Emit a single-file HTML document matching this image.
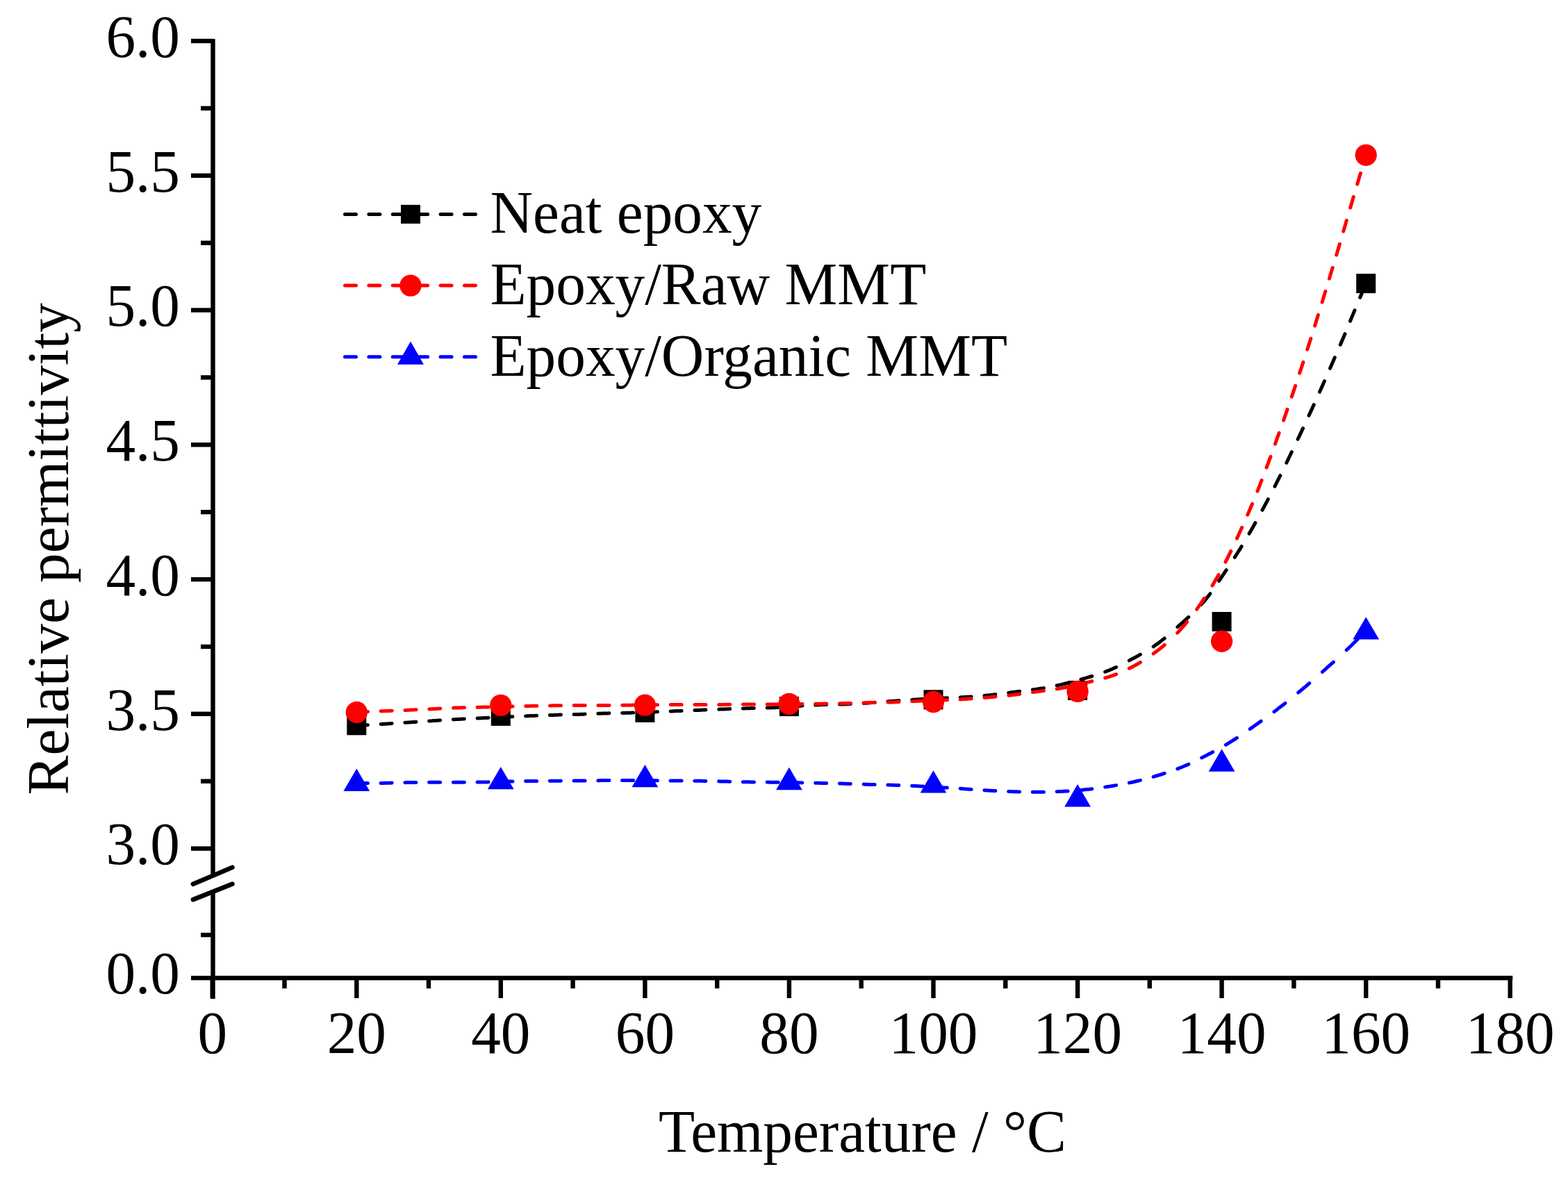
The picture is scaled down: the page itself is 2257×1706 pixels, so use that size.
<!DOCTYPE html>
<html><head><meta charset="utf-8"><title>Relative permittivity vs Temperature</title>
<style>html,body{margin:0;padding:0;background:#fff;overflow:hidden}svg{display:block}text{font-family:"Liberation Serif",serif;font-size:85.3px;fill:#000}</style></head><body>
<svg width="2257" height="1706" viewBox="0 0 2257 1706">
<rect x="0" y="0" width="2257" height="1706" fill="#fff"/>
<g stroke="#000" stroke-width="6.4" stroke-linecap="butt"><line x1="306.5" y1="56" x2="306.5" y2="1261"/><line x1="306.5" y1="1282.5" x2="306.5" y2="1438"/><line x1="303.0" y1="1408.0" x2="2177.3" y2="1408.0"/><line x1="275" y1="59.0" x2="306.5" y2="59.0"/><line x1="275" y1="252.8" x2="306.5" y2="252.8"/><line x1="275" y1="446.5" x2="306.5" y2="446.5"/><line x1="275" y1="640.3" x2="306.5" y2="640.3"/><line x1="275" y1="834.1" x2="306.5" y2="834.1"/><line x1="275" y1="1027.8" x2="306.5" y2="1027.8"/><line x1="275" y1="1221.6" x2="306.5" y2="1221.6"/><line x1="289" y1="155.9" x2="306.5" y2="155.9"/><line x1="289" y1="349.7" x2="306.5" y2="349.7"/><line x1="289" y1="543.4" x2="306.5" y2="543.4"/><line x1="289" y1="737.2" x2="306.5" y2="737.2"/><line x1="289" y1="931.0" x2="306.5" y2="931.0"/><line x1="289" y1="1124.7" x2="306.5" y2="1124.7"/><line x1="275" y1="1408.0" x2="306.5" y2="1408.0"/><line x1="289" y1="1346" x2="306.5" y2="1346"/><line x1="305.7" y1="1408.0" x2="305.7" y2="1437"/><line x1="513.3" y1="1408.0" x2="513.3" y2="1437"/><line x1="720.8" y1="1408.0" x2="720.8" y2="1437"/><line x1="928.4" y1="1408.0" x2="928.4" y2="1437"/><line x1="1135.9" y1="1408.0" x2="1135.9" y2="1437"/><line x1="1343.5" y1="1408.0" x2="1343.5" y2="1437"/><line x1="1551.1" y1="1408.0" x2="1551.1" y2="1437"/><line x1="1758.6" y1="1408.0" x2="1758.6" y2="1437"/><line x1="1966.2" y1="1408.0" x2="1966.2" y2="1437"/><line x1="2173.7" y1="1408.0" x2="2173.7" y2="1437"/><line x1="409.5" y1="1408.0" x2="409.5" y2="1423"/><line x1="617.0" y1="1408.0" x2="617.0" y2="1423"/><line x1="824.6" y1="1408.0" x2="824.6" y2="1423"/><line x1="1032.2" y1="1408.0" x2="1032.2" y2="1423"/><line x1="1239.7" y1="1408.0" x2="1239.7" y2="1423"/><line x1="1447.3" y1="1408.0" x2="1447.3" y2="1423"/><line x1="1654.8" y1="1408.0" x2="1654.8" y2="1423"/><line x1="1862.4" y1="1408.0" x2="1862.4" y2="1423"/><line x1="2070.0" y1="1408.0" x2="2070.0" y2="1423"/></g>
<g stroke="#000" stroke-width="6.6" stroke-linecap="round"><line x1="277.9" y1="1272.8" x2="334.4" y2="1248.7"/><line x1="277.9" y1="1295.1" x2="334.4" y2="1272.6"/></g>
<text transform="translate(259.0,81.7) scale(1,1.02)" text-anchor="end">6.0</text><text transform="translate(259.0,275.5) scale(1,1.02)" text-anchor="end">5.5</text><text transform="translate(259.0,469.2) scale(1,1.02)" text-anchor="end">5.0</text><text transform="translate(259.0,663.0) scale(1,1.02)" text-anchor="end">4.5</text><text transform="translate(259.0,856.8) scale(1,1.02)" text-anchor="end">4.0</text><text transform="translate(259.0,1050.5) scale(1,1.02)" text-anchor="end">3.5</text><text transform="translate(259.0,1244.3) scale(1,1.02)" text-anchor="end">3.0</text><text transform="translate(259.0,1429.7) scale(1,1.02)" text-anchor="end">0.0</text><text transform="translate(305.7,1515.5) scale(1,1.02)" text-anchor="middle">0</text><text transform="translate(513.3,1515.5) scale(1,1.02)" text-anchor="middle">20</text><text transform="translate(720.8,1515.5) scale(1,1.02)" text-anchor="middle">40</text><text transform="translate(928.4,1515.5) scale(1,1.02)" text-anchor="middle">60</text><text transform="translate(1135.9,1515.5) scale(1,1.02)" text-anchor="middle">80</text><text transform="translate(1343.5,1515.5) scale(1,1.02)" text-anchor="middle">100</text><text transform="translate(1551.1,1515.5) scale(1,1.02)" text-anchor="middle">120</text><text transform="translate(1758.6,1515.5) scale(1,1.02)" text-anchor="middle">140</text><text transform="translate(1966.2,1515.5) scale(1,1.02)" text-anchor="middle">160</text><text transform="translate(2173.7,1515.5) scale(1,1.02)" text-anchor="middle">180</text>
<text transform="translate(1241.5,1658.3) scale(1,1.02)" text-anchor="middle">Temperature / °C</text>
<text transform="translate(97.8,790.3) rotate(-90)" text-anchor="middle">Relative permittivity</text>
<path d="M513.4,1044.6 L515.4,1044.5 L517.4,1044.4 L519.4,1044.3 L521.4,1044.1 L523.4,1044.0 L525.4,1043.9 L527.4,1043.8 L529.4,1043.7 L529.4,1043.7M548.1,1042.5 L550.2,1042.4 L552.2,1042.3 L554.2,1042.2 L556.2,1042.0 L558.2,1041.9 L560.2,1041.8 L562.2,1041.7 L564.1,1041.5M582.9,1040.3 L584.9,1040.2 L586.9,1040.1 L588.9,1039.9 L590.9,1039.8 L592.9,1039.7 L594.9,1039.5 L596.9,1039.4 L598.9,1039.3M617.6,1038.0 L619.7,1037.9 L621.7,1037.8 L623.7,1037.6 L625.7,1037.5 L627.7,1037.4 L629.7,1037.3 L631.7,1037.1 L633.6,1037.0M652.4,1035.8 L654.4,1035.7 L656.4,1035.6 L658.4,1035.5 L660.4,1035.4 L662.4,1035.3 L664.4,1035.2 L666.4,1035.1 L668.4,1035.0M687.1,1034.1 L689.2,1034.0 L691.2,1033.9 L693.2,1033.8 L695.2,1033.7 L697.2,1033.6 L699.2,1033.5 L701.2,1033.4 L703.1,1033.3M721.9,1032.4 L723.9,1032.3 L725.9,1032.3 L727.9,1032.2 L729.9,1032.1 L731.9,1032.0 L733.9,1031.9 L735.9,1031.8 L737.9,1031.7M756.6,1030.9 L758.7,1030.8 L760.7,1030.7 L762.7,1030.6 L764.7,1030.6 L766.7,1030.5 L768.7,1030.4 L770.7,1030.3 L772.6,1030.2M791.4,1029.5 L793.4,1029.5 L795.4,1029.4 L797.4,1029.4 L799.4,1029.3 L801.4,1029.2 L803.4,1029.2 L805.4,1029.1 L807.4,1029.1M826.1,1028.6 L828.2,1028.6 L830.2,1028.5 L832.2,1028.4 L834.2,1028.4 L836.2,1028.3 L838.2,1028.2 L840.2,1028.2 L842.1,1028.1M860.9,1027.3 L862.9,1027.3 L864.9,1027.2 L866.9,1027.1 L868.9,1027.1 L870.9,1027.0 L872.9,1026.9 L874.9,1026.9 L876.9,1026.8M895.6,1026.5 L897.7,1026.4 L899.7,1026.4 L901.7,1026.3 L903.7,1026.3 L905.7,1026.2 L907.7,1026.2 L909.7,1026.1 L911.6,1026.1M930.4,1025.4 L932.4,1025.3 L934.4,1025.3 L936.4,1025.2 L938.4,1025.1 L940.4,1025.0 L942.4,1024.9 L944.4,1024.8 L946.4,1024.8M965.1,1024.0 L967.2,1023.9 L969.2,1023.8 L971.2,1023.7 L973.2,1023.6 L975.2,1023.5 L977.2,1023.5 L979.2,1023.4 L981.1,1023.3M999.9,1022.6 L1001.9,1022.5 L1003.9,1022.4 L1005.9,1022.4 L1007.9,1022.3 L1009.9,1022.2 L1011.9,1022.1 L1013.9,1022.1 L1015.9,1022.0M1034.7,1021.2 L1036.7,1021.1 L1038.7,1021.0 L1040.7,1021.0 L1042.7,1020.9 L1044.7,1020.8 L1046.7,1020.7 L1048.7,1020.7 L1050.7,1020.6M1069.4,1019.9 L1071.4,1019.9 L1073.4,1019.8 L1075.4,1019.8 L1077.4,1019.7 L1079.4,1019.7 L1081.4,1019.6 L1083.4,1019.6 L1085.4,1019.5M1104.2,1019.1 L1106.2,1019.1 L1108.2,1019.0 L1110.2,1018.9 L1112.2,1018.8 L1114.2,1018.7 L1116.2,1018.7 L1118.2,1018.6 L1120.2,1018.4M1138.9,1017.3 L1140.9,1017.1 L1142.9,1017.0 L1144.9,1016.8 L1146.9,1016.7 L1148.9,1016.6 L1150.9,1016.4 L1152.9,1016.3 L1154.9,1016.1M1173.7,1015.0 L1175.7,1014.9 L1177.7,1014.8 L1179.7,1014.7 L1181.7,1014.7 L1183.7,1014.6 L1185.7,1014.5 L1187.7,1014.5 L1189.7,1014.4M1208.4,1014.1 L1210.4,1014.0 L1212.4,1014.0 L1214.4,1013.9 L1216.4,1013.8 L1218.4,1013.8 L1220.4,1013.7 L1222.4,1013.6 L1224.4,1013.5M1243.2,1012.5 L1245.2,1012.3 L1247.2,1012.2 L1249.2,1012.0 L1251.2,1011.9 L1253.2,1011.7 L1255.2,1011.6 L1257.2,1011.4 L1259.2,1011.3M1277.9,1009.8 L1279.9,1009.7 L1281.9,1009.5 L1283.9,1009.4 L1285.9,1009.2 L1287.9,1009.1 L1289.9,1008.9 L1291.9,1008.8 L1293.9,1008.6M1312.7,1007.4 L1314.7,1007.3 L1316.7,1007.2 L1318.7,1007.1 L1320.7,1007.0 L1322.7,1006.8 L1324.7,1006.7 L1326.7,1006.6 L1328.7,1006.5M1347.4,1005.6 L1349.4,1005.5 L1351.4,1005.4 L1353.4,1005.3 L1355.4,1005.2 L1357.4,1005.1 L1359.4,1005.0 L1361.4,1004.9 L1363.4,1004.8M1382.2,1003.9 L1384.2,1003.8 L1386.2,1003.7 L1388.2,1003.5 L1390.2,1003.4 L1392.2,1003.3 L1394.2,1003.2 L1396.2,1003.1 L1398.2,1002.9M1416.9,1001.5 L1418.9,1001.3 L1420.9,1001.1 L1422.9,1000.9 L1424.9,1000.7 L1426.9,1000.5 L1428.9,1000.3 L1430.9,1000.0 L1432.9,999.8M1451.7,997.4 L1453.7,997.1 L1455.7,996.8 L1457.7,996.6 L1459.7,996.3 L1461.7,996.1 L1463.7,995.8 L1465.7,995.6 L1467.7,995.3M1486.4,993.0 L1488.4,992.7 L1490.4,992.4 L1492.4,992.1 L1494.4,991.8 L1496.4,991.5 L1498.4,991.2 L1500.4,990.9 L1502.4,990.6M1521.2,987.0 L1523.2,986.5 L1525.2,986.1 L1527.2,985.6 L1529.2,985.2 L1531.2,984.7 L1533.2,984.2 L1535.2,983.7 L1537.2,983.2M1555.9,978.2 L1557.9,977.6 L1559.9,977.0 L1561.9,976.4 L1563.9,975.8 L1565.9,975.2 L1567.9,974.6 L1569.9,974.0 L1571.9,973.5M1590.7,967.2 L1592.7,966.4 L1594.7,965.7 L1596.7,964.9 L1598.7,964.0 L1600.7,963.2 L1602.7,962.3 L1604.7,961.4 L1606.7,960.5M1625.4,951.0 L1627.4,949.9 L1629.4,948.8 L1631.4,947.8 L1633.4,946.7 L1635.4,945.6 L1637.4,944.5 L1639.4,943.4 L1641.4,942.3M1660.2,930.9 L1662.2,929.5 L1664.2,928.1 L1666.2,926.7 L1668.2,925.2 L1670.2,923.7 L1672.2,922.1 L1674.2,920.6 L1676.2,919.0M1694.9,902.7 L1696.9,900.9 L1698.9,899.1 L1700.9,897.3 L1702.9,895.5 L1704.9,893.7 L1706.9,891.9 L1708.9,890.1 L1710.9,888.3M1729.1,870.3 L1731.1,868.1 L1733.1,865.8 L1735.1,863.4 L1737.1,860.9 L1739.1,858.4 L1741.1,855.7 L1741.9,854.7M1754.7,836.3 L1756.7,833.3 L1758.7,830.3 L1760.7,827.3 L1762.7,824.3 L1764.7,821.3 L1765.2,820.7M1777.3,802.3 L1779.3,799.2 L1781.3,796.0 L1783.3,792.9 L1785.3,789.7 L1787.2,786.7M1798.1,768.3 L1800.1,764.8 L1802.1,761.3 L1804.1,757.8 L1806.1,754.2 L1806.9,752.7M1817.0,734.3 L1819.0,730.6 L1821.0,726.8 L1823.0,723.1 L1825.0,719.3 L1825.3,718.7M1834.9,700.3 L1836.9,696.4 L1838.9,692.4 L1840.9,688.4 L1842.8,684.7M1851.8,666.3 L1853.8,662.1 L1855.8,658.0 L1857.8,653.8 L1859.3,650.7M1868.1,632.3 L1870.1,628.1 L1872.1,623.9 L1874.1,619.6 L1875.5,616.7M1884.0,598.3 L1886.0,593.9 L1888.0,589.6 L1890.0,585.2 L1891.2,582.7M1899.5,564.3 L1901.5,559.8 L1903.5,555.4 L1905.5,550.8 L1906.5,548.7M1914.5,530.3 L1916.5,525.7 L1918.5,521.1 L1920.5,516.5 L1921.3,514.7M1929.3,496.3 L1931.3,491.6 L1933.3,486.9 L1935.3,482.1 L1935.9,480.7M1943.5,462.3 L1945.5,457.4 L1947.5,452.6 L1949.5,447.8 L1950.0,446.7M1957.7,428.3 L1959.7,423.5 L1961.7,418.8 L1963.7,414.1 L1964.3,412.6" fill="none" stroke="#000" stroke-width="5.0" stroke-linecap="round" stroke-linejoin="round"/>
<rect x="499.3" y="1030.3" width="28.0" height="28.0" fill="#000"/><rect x="706.8" y="1016.9" width="28.0" height="28.0" fill="#000"/><rect x="914.4" y="1011.9" width="28.0" height="28.0" fill="#000"/><rect x="1121.9" y="1003.1" width="28.0" height="28.0" fill="#000"/><rect x="1329.5" y="993.3" width="28.0" height="28.0" fill="#000"/><rect x="1537.1" y="980.0" width="28.0" height="28.0" fill="#000"/><rect x="1744.6" y="881.0" width="28.0" height="28.0" fill="#000"/><rect x="1952.2" y="394.1" width="28.0" height="28.0" fill="#000"/>
<path d="M513.5,1025.2 L515.5,1025.1 L517.5,1025.0 L519.5,1025.0 L521.5,1024.9 L523.5,1024.8 L525.5,1024.7 L527.5,1024.7 L529.5,1024.6 L529.5,1024.6M548.2,1023.8 L550.3,1023.8 L552.3,1023.7 L554.3,1023.6 L556.3,1023.5 L558.3,1023.4 L560.3,1023.4 L562.3,1023.3 L564.2,1023.2M583.0,1022.4 L585.0,1022.4 L587.0,1022.3 L589.0,1022.2 L591.0,1022.1 L593.0,1022.0 L595.0,1021.9 L597.0,1021.8 L599.0,1021.8M617.8,1020.9 L619.8,1020.8 L621.8,1020.7 L623.8,1020.6 L625.8,1020.5 L627.8,1020.4 L629.8,1020.3 L631.8,1020.2 L633.8,1020.1M652.5,1019.2 L654.5,1019.1 L656.5,1019.1 L658.5,1019.0 L660.5,1018.9 L662.5,1018.8 L664.5,1018.8 L666.5,1018.7 L668.5,1018.7M687.2,1018.2 L689.3,1018.2 L691.3,1018.2 L693.3,1018.1 L695.3,1018.1 L697.3,1018.0 L699.3,1018.0 L701.3,1017.9 L703.2,1017.9M722.0,1017.4 L724.0,1017.4 L726.0,1017.3 L728.0,1017.2 L730.0,1017.2 L732.0,1017.1 L734.0,1017.1 L736.0,1017.0 L738.0,1017.0M756.8,1016.5 L758.8,1016.5 L760.8,1016.4 L762.8,1016.4 L764.8,1016.3 L766.8,1016.3 L768.8,1016.3 L770.8,1016.2 L772.8,1016.2M791.5,1015.9 L793.5,1015.9 L795.5,1015.8 L797.5,1015.8 L799.5,1015.8 L801.5,1015.8 L803.5,1015.7 L805.5,1015.7 L807.5,1015.7M826.2,1015.5 L828.3,1015.5 L830.3,1015.4 L832.3,1015.4 L834.3,1015.4 L836.3,1015.4 L838.3,1015.4 L840.3,1015.4 L842.2,1015.4M861.0,1015.4 L863.0,1015.4 L865.0,1015.4 L867.0,1015.4 L869.0,1015.4 L871.0,1015.4 L873.0,1015.4 L875.0,1015.4 L877.0,1015.4M895.8,1015.3 L897.8,1015.3 L899.8,1015.2 L901.8,1015.2 L903.8,1015.2 L905.8,1015.2 L907.8,1015.2 L909.8,1015.1 L911.8,1015.1M930.5,1014.9 L932.5,1014.8 L934.5,1014.8 L936.5,1014.8 L938.5,1014.8 L940.5,1014.7 L942.5,1014.7 L944.5,1014.7 L946.5,1014.7M965.2,1014.5 L967.3,1014.4 L969.3,1014.4 L971.3,1014.4 L973.3,1014.4 L975.3,1014.4 L977.3,1014.4 L979.3,1014.4 L981.2,1014.4M1000.0,1014.4 L1002.0,1014.4 L1004.0,1014.4 L1006.0,1014.4 L1008.0,1014.4 L1010.0,1014.4 L1012.0,1014.4 L1014.0,1014.4 L1016.0,1014.4M1034.8,1014.4 L1036.8,1014.4 L1038.8,1014.4 L1040.8,1014.4 L1042.8,1014.4 L1044.8,1014.3 L1046.8,1014.3 L1048.8,1014.3 L1050.8,1014.3M1069.5,1014.0 L1071.5,1014.0 L1073.5,1014.0 L1075.5,1013.9 L1077.5,1013.9 L1079.5,1013.9 L1081.5,1013.9 L1083.5,1013.9 L1085.5,1013.9M1104.2,1013.9 L1106.3,1013.9 L1108.3,1013.9 L1110.3,1013.9 L1112.3,1013.9 L1114.3,1013.9 L1116.3,1013.9 L1118.3,1013.9 L1120.2,1013.9M1139.0,1013.7 L1141.0,1013.7 L1143.0,1013.7 L1145.0,1013.7 L1147.0,1013.7 L1149.0,1013.6 L1151.0,1013.6 L1153.0,1013.6 L1155.0,1013.6M1173.8,1013.3 L1175.8,1013.3 L1177.8,1013.3 L1179.8,1013.2 L1181.8,1013.2 L1183.8,1013.2 L1185.8,1013.1 L1187.8,1013.1 L1189.8,1013.1M1208.5,1012.8 L1210.5,1012.7 L1212.5,1012.7 L1214.5,1012.6 L1216.5,1012.6 L1218.5,1012.5 L1220.5,1012.5 L1222.5,1012.4 L1224.5,1012.4M1243.2,1011.8 L1245.3,1011.8 L1247.3,1011.7 L1249.3,1011.7 L1251.3,1011.6 L1253.3,1011.6 L1255.3,1011.6 L1257.3,1011.5 L1259.2,1011.5M1278.0,1011.1 L1280.0,1011.0 L1282.0,1011.0 L1284.0,1010.9 L1286.0,1010.9 L1288.0,1010.8 L1290.0,1010.7 L1292.0,1010.6 L1294.0,1010.6M1312.8,1009.7 L1314.8,1009.6 L1316.8,1009.5 L1318.8,1009.4 L1320.8,1009.3 L1322.8,1009.2 L1324.8,1009.1 L1326.8,1009.1 L1328.8,1009.0M1347.5,1008.3 L1349.5,1008.2 L1351.5,1008.1 L1353.5,1008.1 L1355.5,1008.0 L1357.5,1007.9 L1359.5,1007.9 L1361.5,1007.8 L1363.5,1007.7M1382.2,1006.9 L1384.3,1006.7 L1386.3,1006.6 L1388.3,1006.5 L1390.3,1006.4 L1392.3,1006.3 L1394.3,1006.1 L1396.3,1006.0 L1398.2,1005.9M1417.0,1004.4 L1419.0,1004.3 L1421.0,1004.1 L1423.0,1003.9 L1425.0,1003.8 L1427.0,1003.6 L1429.0,1003.4 L1431.0,1003.2 L1433.0,1003.0M1451.8,1001.2 L1453.8,1000.9 L1455.8,1000.7 L1457.8,1000.5 L1459.8,1000.2 L1461.8,1000.0 L1463.8,999.7 L1465.8,999.5 L1467.8,999.2M1486.5,996.6 L1488.5,996.3 L1490.5,996.1 L1492.5,995.8 L1494.5,995.5 L1496.5,995.3 L1498.5,995.0 L1500.5,994.7 L1502.5,994.5M1521.2,991.9 L1523.3,991.5 L1525.3,991.2 L1527.3,990.8 L1529.3,990.5 L1531.3,990.1 L1533.3,989.7 L1535.3,989.3 L1537.2,988.9M1556.0,984.5 L1558.0,984.1 L1560.0,983.6 L1562.0,983.1 L1564.0,982.6 L1566.0,982.1 L1568.0,981.7 L1570.0,981.2 L1572.0,980.7M1590.8,976.0 L1592.8,975.4 L1594.8,974.8 L1596.8,974.1 L1598.8,973.5 L1600.8,972.8 L1602.8,972.1 L1604.8,971.4 L1606.8,970.7M1625.5,962.3 L1627.5,961.3 L1629.5,960.2 L1631.5,959.2 L1633.5,958.1 L1635.5,957.0 L1637.5,955.8 L1639.5,954.6 L1641.5,953.5M1660.2,941.0 L1662.3,939.5 L1664.3,938.0 L1666.3,936.5 L1668.3,934.9 L1670.3,933.4 L1672.3,931.8 L1674.3,930.1 L1676.2,928.5M1694.8,911.1 L1696.8,909.0 L1698.8,906.8 L1700.8,904.6 L1702.8,902.3 L1704.8,900.0 L1706.8,897.7 L1708.7,895.4M1722.7,877.1 L1724.7,874.2 L1726.7,871.4 L1728.7,868.5 L1730.7,865.5 L1732.7,862.5 L1733.4,861.4M1745.0,843.1 L1747.0,839.7 L1749.0,836.3 L1751.0,832.9 L1753.0,829.4 L1754.1,827.4M1764.0,809.1 L1766.0,805.1 L1768.0,801.2 L1770.0,797.1 L1771.8,793.4M1780.5,775.1 L1782.5,770.7 L1784.5,766.3 L1786.5,762.0 L1787.7,759.4M1795.8,741.1 L1797.8,736.4 L1799.8,731.7 L1801.8,727.0 L1802.5,725.4M1810.0,707.1 L1812.0,702.0 L1814.0,696.9 L1816.0,691.7 L1816.1,691.4M1823.1,673.1 L1825.1,667.7 L1827.1,662.3 L1828.9,657.4M1835.5,639.1 L1837.5,633.4 L1839.5,627.8 L1841.1,623.4M1847.6,605.1 L1849.6,599.3 L1851.6,593.5 L1853.0,589.4M1859.3,571.1 L1861.3,565.1 L1863.3,559.2 L1864.6,555.4M1870.7,537.1 L1872.7,531.0 L1874.7,524.9 L1875.9,521.4M1881.8,503.1 L1883.8,496.8 L1885.8,490.5 L1886.8,487.4M1892.6,469.1 L1894.6,462.6 L1896.6,456.1 L1897.4,453.4M1903.1,435.1 L1905.1,428.4 L1907.1,421.8 L1907.9,419.4M1913.4,401.1 L1915.4,394.4 L1917.4,387.8 L1918.2,385.4M1923.7,367.1 L1925.7,360.3 L1927.7,353.5 L1928.4,351.4M1933.7,333.1 L1935.7,326.2 L1937.7,319.3 L1938.3,317.4M1943.7,299.1 L1945.7,292.1 L1947.7,285.3 L1948.3,283.4M1953.7,265.1 L1955.7,258.2 L1957.7,251.5 L1958.4,249.4M1963.8,231.1 L1965.8,224.2 L1966.2,223.0" fill="none" stroke="#f00" stroke-width="5.0" stroke-linecap="round" stroke-linejoin="round"/>
<circle cx="513.3" cy="1025.5" r="15.65" fill="#f00"/><circle cx="720.8" cy="1015.4" r="15.65" fill="#f00"/><circle cx="928.4" cy="1015.2" r="15.65" fill="#f00"/><circle cx="1135.9" cy="1013.4" r="15.65" fill="#f00"/><circle cx="1343.5" cy="1010.5" r="15.65" fill="#f00"/><circle cx="1551.1" cy="995.4" r="15.65" fill="#f00"/><circle cx="1758.6" cy="923.3" r="15.65" fill="#f00"/><circle cx="1966.2" cy="223.3" r="15.65" fill="#f00"/>
<path d="M513.4,1127.6 L515.4,1127.6 L517.4,1127.6 L519.4,1127.6 L521.4,1127.6 L523.4,1127.6 L525.4,1127.6 L527.4,1127.6 L529.4,1127.6 L529.4,1127.6M548.1,1127.4 L550.2,1127.4 L552.2,1127.4 L554.2,1127.3 L556.2,1127.3 L558.2,1127.3 L560.2,1127.2 L562.2,1127.2 L564.1,1127.1M582.9,1126.7 L584.9,1126.6 L586.9,1126.6 L588.9,1126.6 L590.9,1126.5 L592.9,1126.5 L594.9,1126.5 L596.9,1126.4 L598.9,1126.4M617.6,1126.3 L619.7,1126.3 L621.7,1126.3 L623.7,1126.3 L625.7,1126.3 L627.7,1126.3 L629.7,1126.3 L631.7,1126.3 L633.6,1126.3M652.4,1126.2 L654.4,1126.2 L656.4,1126.2 L658.4,1126.2 L660.4,1126.2 L662.4,1126.2 L664.4,1126.2 L666.4,1126.2 L668.4,1126.2M687.1,1126.1 L689.2,1126.1 L691.2,1126.0 L693.2,1126.0 L695.2,1126.0 L697.2,1126.0 L699.2,1125.9 L701.2,1125.9 L703.1,1125.8M721.9,1125.4 L723.9,1125.3 L725.9,1125.3 L727.9,1125.2 L729.9,1125.2 L731.9,1125.1 L733.9,1125.1 L735.9,1125.0 L737.9,1125.0M756.6,1124.6 L758.7,1124.5 L760.7,1124.5 L762.7,1124.5 L764.7,1124.4 L766.7,1124.4 L768.7,1124.4 L770.7,1124.4 L772.6,1124.4M791.4,1124.3 L793.4,1124.3 L795.4,1124.3 L797.4,1124.3 L799.4,1124.3 L801.4,1124.3 L803.4,1124.3 L805.4,1124.3 L807.4,1124.2M826.1,1124.1 L828.2,1124.1 L830.2,1124.0 L832.2,1124.0 L834.2,1124.0 L836.2,1124.0 L838.2,1124.0 L840.2,1123.9 L842.1,1123.9M860.9,1123.7 L862.9,1123.7 L864.9,1123.6 L866.9,1123.6 L868.9,1123.6 L870.9,1123.6 L872.9,1123.6 L874.9,1123.6 L876.9,1123.6M895.6,1123.5 L897.7,1123.5 L899.7,1123.5 L901.7,1123.5 L903.7,1123.5 L905.7,1123.5 L907.7,1123.5 L909.7,1123.5 L911.6,1123.5M930.4,1123.6 L932.4,1123.6 L934.4,1123.7 L936.4,1123.7 L938.4,1123.7 L940.4,1123.7 L942.4,1123.7 L944.4,1123.7 L946.4,1123.8M965.1,1123.9 L967.2,1123.9 L969.2,1124.0 L971.2,1124.0 L973.2,1124.0 L975.2,1124.0 L977.2,1124.0 L979.2,1124.0 L981.1,1124.0M999.9,1124.2 L1001.9,1124.2 L1003.9,1124.3 L1005.9,1124.3 L1007.9,1124.3 L1009.9,1124.3 L1011.9,1124.4 L1013.9,1124.4 L1015.9,1124.4M1034.7,1124.8 L1036.7,1124.9 L1038.7,1124.9 L1040.7,1125.0 L1042.7,1125.0 L1044.7,1125.1 L1046.7,1125.1 L1048.7,1125.2 L1050.7,1125.2M1069.4,1125.7 L1071.4,1125.7 L1073.4,1125.7 L1075.4,1125.8 L1077.4,1125.8 L1079.4,1125.8 L1081.4,1125.9 L1083.4,1125.9 L1085.4,1125.9M1104.2,1126.1 L1106.2,1126.1 L1108.2,1126.2 L1110.2,1126.2 L1112.2,1126.2 L1114.2,1126.2 L1116.2,1126.3 L1118.2,1126.3 L1120.2,1126.3M1138.9,1126.6 L1140.9,1126.6 L1142.9,1126.7 L1144.9,1126.7 L1146.9,1126.7 L1148.9,1126.8 L1150.9,1126.8 L1152.9,1126.8 L1154.9,1126.9M1173.7,1127.2 L1175.7,1127.3 L1177.7,1127.3 L1179.7,1127.3 L1181.7,1127.4 L1183.7,1127.4 L1185.7,1127.5 L1187.7,1127.5 L1189.7,1127.6M1208.4,1128.0 L1210.4,1128.1 L1212.4,1128.1 L1214.4,1128.2 L1216.4,1128.2 L1218.4,1128.3 L1220.4,1128.4 L1222.4,1128.4 L1224.4,1128.5M1243.2,1129.1 L1245.2,1129.2 L1247.2,1129.2 L1249.2,1129.3 L1251.2,1129.4 L1253.2,1129.4 L1255.2,1129.5 L1257.2,1129.5 L1259.2,1129.6M1277.9,1130.1 L1279.9,1130.1 L1281.9,1130.2 L1283.9,1130.2 L1285.9,1130.3 L1287.9,1130.4 L1289.9,1130.4 L1291.9,1130.5 L1293.9,1130.6M1312.7,1131.3 L1314.7,1131.4 L1316.7,1131.5 L1318.7,1131.6 L1320.7,1131.7 L1322.7,1131.8 L1324.7,1131.9 L1326.7,1132.0 L1328.7,1132.1M1347.4,1133.2 L1349.4,1133.3 L1351.4,1133.4 L1353.4,1133.5 L1355.4,1133.6 L1357.4,1133.8 L1359.4,1133.9 L1361.4,1134.0 L1363.4,1134.1M1382.2,1135.3 L1384.2,1135.5 L1386.2,1135.6 L1388.2,1135.8 L1390.2,1135.9 L1392.2,1136.0 L1394.2,1136.2 L1396.2,1136.3 L1398.2,1136.4M1416.9,1137.7 L1418.9,1137.8 L1420.9,1137.9 L1422.9,1138.0 L1424.9,1138.2 L1426.9,1138.3 L1428.9,1138.4 L1430.9,1138.5 L1432.9,1138.6M1451.7,1139.4 L1453.7,1139.5 L1455.7,1139.6 L1457.7,1139.7 L1459.7,1139.7 L1461.7,1139.8 L1463.7,1139.8 L1465.7,1139.9 L1467.7,1140.0M1486.4,1140.3 L1488.4,1140.3 L1490.4,1140.3 L1492.4,1140.3 L1494.4,1140.3 L1496.4,1140.3 L1498.4,1140.3 L1500.4,1140.2 L1502.4,1140.2M1521.2,1139.7 L1523.2,1139.6 L1525.2,1139.5 L1527.2,1139.4 L1529.2,1139.3 L1531.2,1139.2 L1533.2,1139.1 L1535.2,1139.0 L1537.2,1138.9M1555.9,1137.4 L1557.9,1137.2 L1559.9,1137.0 L1561.9,1136.8 L1563.9,1136.6 L1565.9,1136.4 L1567.9,1136.2 L1569.9,1135.9 L1571.9,1135.7M1590.7,1133.1 L1592.7,1132.8 L1594.7,1132.5 L1596.7,1132.2 L1598.7,1131.9 L1600.7,1131.5 L1602.7,1131.2 L1604.7,1130.9 L1606.7,1130.6M1625.4,1127.0 L1627.4,1126.6 L1629.4,1126.2 L1631.4,1125.7 L1633.4,1125.3 L1635.4,1124.8 L1637.4,1124.3 L1639.4,1123.9 L1641.4,1123.4M1660.2,1118.3 L1662.2,1117.7 L1664.2,1117.1 L1666.2,1116.5 L1668.2,1115.9 L1670.2,1115.3 L1672.2,1114.6 L1674.2,1114.0 L1676.2,1113.4M1694.9,1106.9 L1696.9,1106.1 L1698.9,1105.3 L1700.9,1104.5 L1702.9,1103.7 L1704.9,1102.8 L1706.9,1102.0 L1708.9,1101.1 L1710.9,1100.2M1729.7,1091.0 L1731.7,1090.0 L1733.7,1088.9 L1735.7,1087.9 L1737.7,1086.9 L1739.7,1085.8 L1741.7,1084.8 L1743.7,1083.7 L1745.7,1082.7M1764.4,1072.3 L1766.4,1071.1 L1768.4,1069.9 L1770.4,1068.7 L1772.4,1067.4 L1774.4,1066.2 L1776.4,1064.9 L1778.4,1063.6 L1780.4,1062.3M1799.2,1049.5 L1801.2,1048.1 L1803.2,1046.7 L1805.2,1045.3 L1807.2,1043.9 L1809.2,1042.5 L1811.2,1041.0 L1813.2,1039.6 L1815.2,1038.2M1833.9,1024.7 L1835.9,1023.2 L1837.9,1021.7 L1839.9,1020.1 L1841.9,1018.6 L1843.9,1017.1 L1845.9,1015.5 L1847.9,1014.0 L1849.9,1012.4M1868.7,997.2 L1870.7,995.5 L1872.7,993.8 L1874.7,992.2 L1876.7,990.5 L1878.7,988.8 L1880.7,987.1 L1882.7,985.4 L1884.7,983.7M1903.4,967.3 L1905.4,965.5 L1907.4,963.8 L1909.4,962.0 L1911.4,960.2 L1913.4,958.4 L1915.4,956.6 L1917.4,954.9 L1919.4,953.1M1938.2,935.9 L1940.2,934.0 L1942.2,932.1 L1944.2,930.2 L1946.2,928.2 L1948.2,926.3 L1950.2,924.3 L1952.2,922.3 L1954.1,920.4" fill="none" stroke="#00f" stroke-width="5.0" stroke-linecap="round" stroke-linejoin="round"/>
<path d="M513.3,1106.6 L532.2,1139.0 L494.4,1139.0Z" fill="#00f"/><path d="M720.8,1103.9 L739.7,1136.3 L701.9,1136.3Z" fill="#00f"/><path d="M928.4,1100.9 L947.3,1133.3 L909.5,1133.3Z" fill="#00f"/><path d="M1135.9,1104.8 L1154.8,1137.2 L1117.0,1137.2Z" fill="#00f"/><path d="M1343.5,1109.2 L1362.4,1141.6 L1324.6,1141.6Z" fill="#00f"/><path d="M1551.1,1129.1 L1570.0,1161.5 L1532.2,1161.5Z" fill="#00f"/><path d="M1758.6,1078.3 L1777.5,1110.7 L1739.7,1110.7Z" fill="#00f"/><path d="M1966.2,888.2 L1985.1,920.6 L1947.3,920.6Z" fill="#00f"/>
<line x1="496.5" y1="308.4" x2="684.5" y2="308.4" stroke="#000" stroke-width="5" style="stroke-dasharray:16 18.4;stroke-linecap:round"/>
<rect x="577" y="294.9" width="28" height="27" fill="#000"/>
<text transform="translate(705.5,335.4) scale(1,1.02)">Neat epoxy</text>
<line x1="496.5" y1="411.1" x2="684.5" y2="411.1" stroke="#f00" stroke-width="5" style="stroke-dasharray:16 18.4;stroke-linecap:round"/>
<circle cx="591" cy="411.1" r="15.7" fill="#f00"/>
<text transform="translate(705.5,438.1) scale(1,1.02)">Epoxy/Raw MMT</text>
<line x1="496.5" y1="513.8" x2="684.5" y2="513.8" stroke="#00f" stroke-width="5" style="stroke-dasharray:16 18.4;stroke-linecap:round"/>
<path d="M591,491.49999999999994 L610,524.8 L572,524.8Z" fill="#00f"/>
<text transform="translate(705.5,540.8) scale(1,1.02)">Epoxy/Organic MMT</text>
</svg></body></html>
